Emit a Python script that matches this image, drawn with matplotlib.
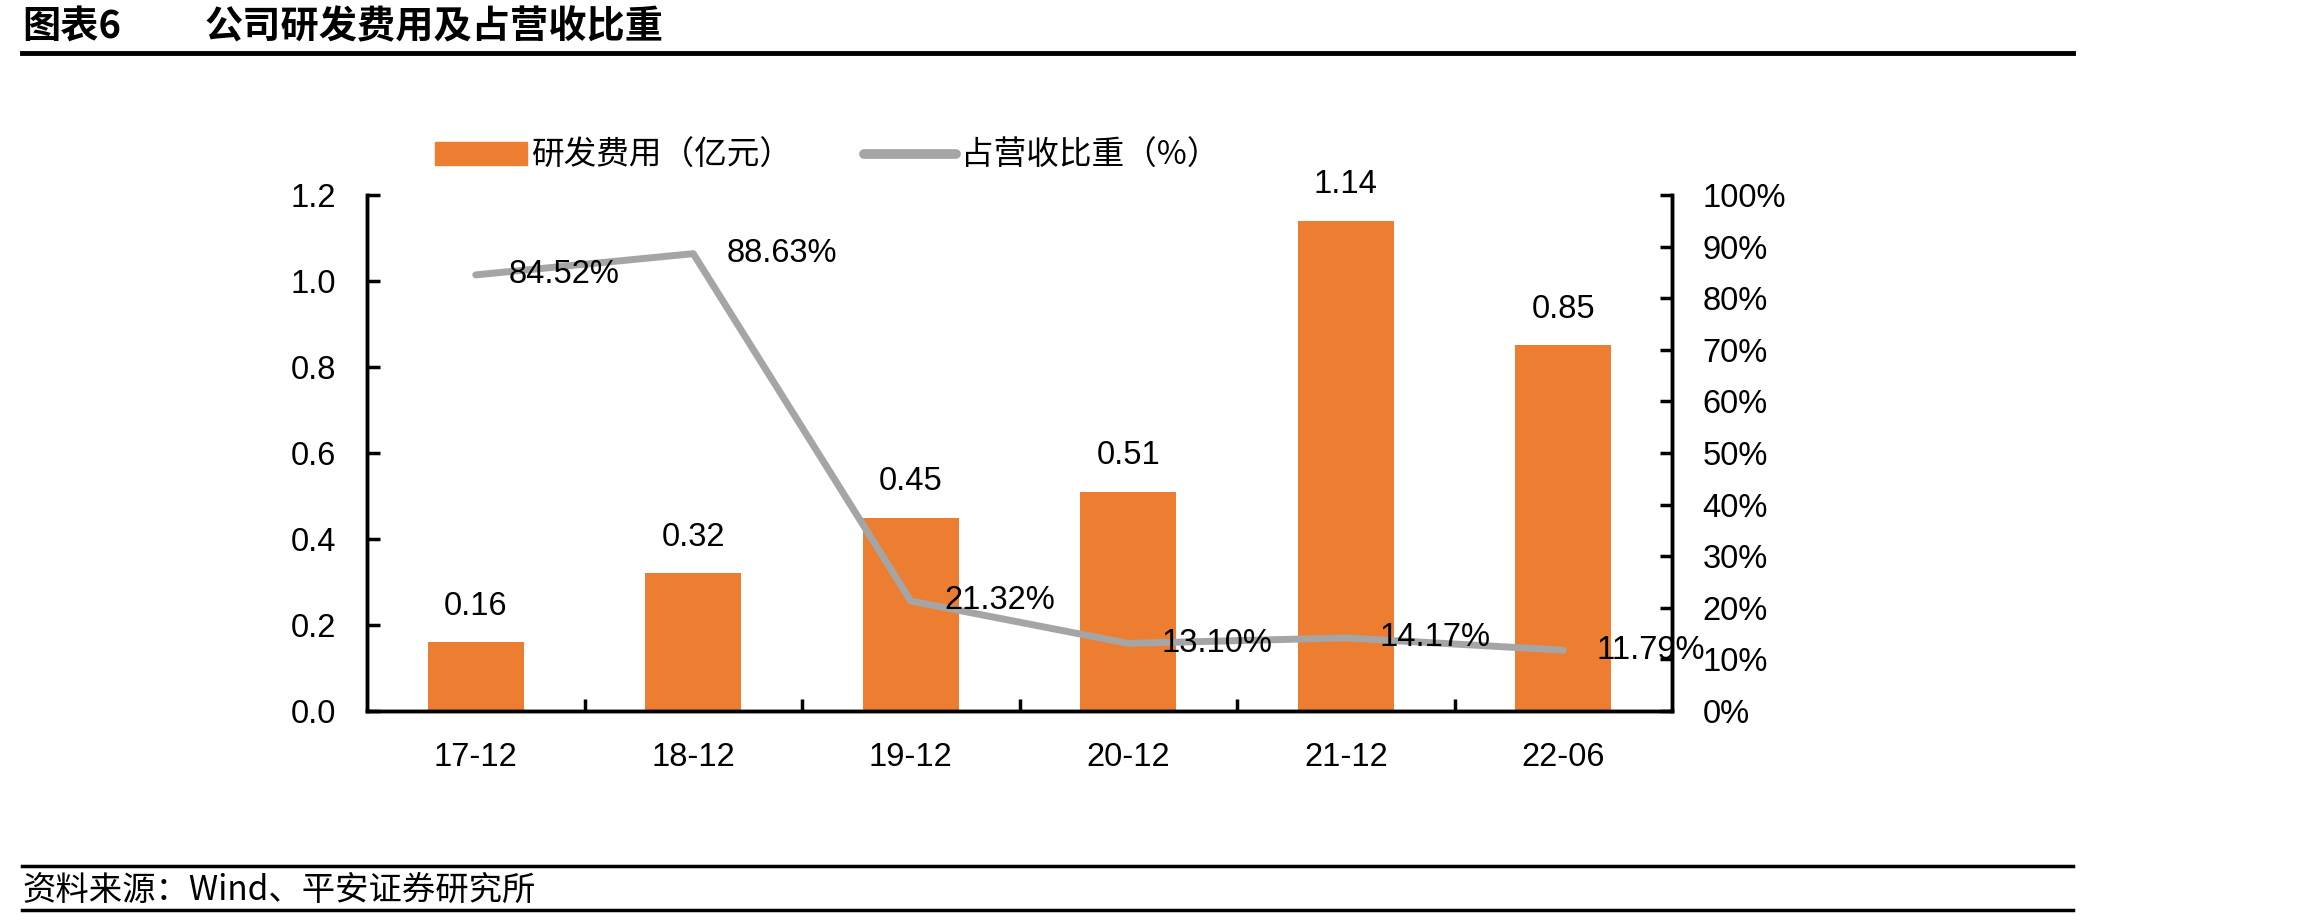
import matplotlib
matplotlib.use("Agg")
import matplotlib.pyplot as plt
from matplotlib.lines import Line2D
from matplotlib.patches import Patch

categories = ["17-12", "18-12", "19-12", "20-12", "21-12", "22-06"]
rd_cost = [0.16, 0.32, 0.45, 0.51, 1.14, 0.85]          # 亿元
rd_ratio = [84.52, 88.63, 21.32, 13.10, 14.17, 11.79]    # %
left_ticks = [0.0, 0.2, 0.4, 0.6, 0.8, 1.0, 1.2]
right_ticks = list(range(0, 101, 10))

ORANGE = "#ED7D31"
GRAY = "#A5A5A5"
FONTS = ["Liberation Sans", "Noto Sans CJK SC"]
CJK = ["Noto Sans CJK SC", "Liberation Sans"]
FS = 23.5

plt.rcParams["font.family"] = FONTS

fig = plt.figure(figsize=(23.02, 9.21), dpi=100)
ax = fig.add_axes([367 / 2302, 1 - 711 / 921, (1672 - 367) / 2302, (711 - 195) / 921])
ax2 = ax.twinx()

x = list(range(len(categories)))
bars = ax.bar(x, rd_cost, width=0.44, color=ORANGE, zorder=2)
ax.set_xlim(-0.5, len(categories) - 0.5)
ax.set_ylim(0, 1.2)
ax.set_yticks(left_ticks)
ax.set_yticklabels([f"{v:.1f}" for v in left_ticks])
ax.set_xticks(x)
ax.set_xticklabels(categories)
ax.set_xticks([i + 0.5 for i in x[:-1]], minor=True)
ax.tick_params(axis="x", which="major", length=0, pad=22, labelsize=FS)
ax.tick_params(axis="x", which="minor", length=9, width=2.5, direction="in")
ax.tick_params(axis="y", length=9, width=2.5, direction="in", pad=22, labelsize=FS)

for b, v in zip(bars, rd_cost):
    ax.annotate(f"{v:.2f}", (b.get_x() + b.get_width() / 2, v), xytext=(0, 26),
                textcoords="offset points", ha="center", va="center", fontsize=FS)

ax2.plot(x, rd_ratio, color=GRAY, lw=5, solid_capstyle="round", zorder=3)
ax2.set_ylim(0, 100)
ax2.set_yticks(right_ticks)
ax2.set_yticklabels([f"{v}%" for v in right_ticks])
ax2.tick_params(axis="y", length=9, width=2.5, direction="in", pad=22, labelsize=FS)
for xi, v in zip(x, rd_ratio):
    ax2.annotate(f"{v:.2f}%", (xi, v), xytext=(24, 0), textcoords="offset points",
                 ha="left", va="center", fontsize=FS, zorder=5)

for a in (ax, ax2):
    for side in ("left", "right", "bottom"):
        a.spines[side].set_linewidth(2.5)
    a.spines["top"].set_visible(False)

handles = [Patch(color=ORANGE), Line2D([], [], color=GRAY, lw=7, solid_capstyle="round")]
leg = fig.legend(handles, ["研发费用（亿元）", "占营收比重（%）"], loc="center left",
                 bbox_to_anchor=(406 / 2302, 1 - 156 / 921), ncol=2, frameon=False,
                 handlelength=2.8, handletextpad=0.15, columnspacing=2.2,
                 prop={"family": CJK, "size": FS})

# title block
fig.text(22 / 2302, 1 - 27 / 921, "图表6", fontsize=27.5, fontweight="bold", family=CJK,
         ha="left", va="center")
fig.text(205 / 2302, 1 - 27 / 921, "公司研发费用及占营收比重", fontsize=27.5, fontweight="bold",
         family=CJK, ha="left", va="center")
fig.add_artist(Line2D([22 / 2302, 2073 / 2302], [1 - 53 / 921] * 2, color="black", lw=3.5))

# source block
fig.add_artist(Line2D([22 / 2302, 2073 / 2302], [1 - 866 / 921] * 2, color="black", lw=2.5))
fig.add_artist(Line2D([22 / 2302, 2073 / 2302], [1 - 910 / 921] * 2, color="black", lw=2.5))
fig.text(22 / 2302, 1 - 890 / 921, "资料来源：Wind、平安证券研究所", fontsize=24, style="italic",
         family=CJK, ha="left", va="center")

fig.savefig("out.png", dpi=100)
